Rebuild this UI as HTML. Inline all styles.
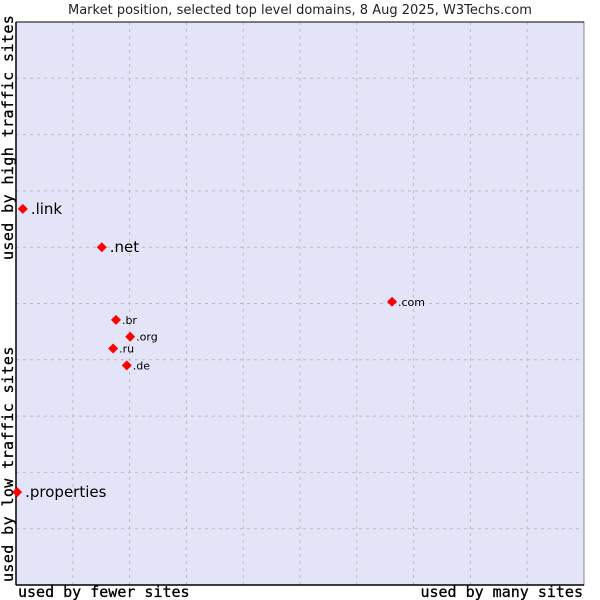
<!DOCTYPE html>
<html><head><meta charset="utf-8"><style>
body{margin:0;background:#fff;width:600px;height:600px;overflow:hidden}
svg{display:block}
</style></head><body>
<svg id="chart" width="600" height="600" xmlns="http://www.w3.org/2000/svg">
<text x="300" y="14" text-anchor="middle" font-family="DejaVu Sans, sans-serif" font-size="13" fill="#222">Market position, selected top level domains, 8 Aug 2025, W3Techs.com</text>
<rect x="16" y="22" width="568" height="563" fill="#e4e4f8" stroke="#888" stroke-width="1"/>
<g id="grid"></g>
<line x1="16" y1="22" x2="584" y2="22" stroke="#000"/>
<line x1="16" y1="22" x2="16" y2="585" stroke="#000" stroke-width="1.5"/>
<line x1="16" y1="585" x2="584" y2="585" stroke="#000" stroke-width="1.5"/>
<g id="points"></g>
<text x="18" y="597" font-family="DejaVu Sans Mono, monospace" font-size="15" stroke="#000" stroke-width="0.3" fill="#000">used by fewer sites</text>
<text x="583" y="597" text-anchor="end" font-family="DejaVu Sans Mono, monospace" font-size="15" stroke="#000" stroke-width="0.3" fill="#000">used by many sites</text>
<text transform="translate(13,582) rotate(-90)" font-family="DejaVu Sans Mono, monospace" font-size="15" letter-spacing="0.4" stroke="#000" stroke-width="0.3" fill="#000">used by low traffic sites</text>
<text transform="translate(13,260) rotate(-90)" font-family="DejaVu Sans Mono, monospace" font-size="15" letter-spacing="0.4" stroke="#000" stroke-width="0.3" fill="#000">used by high traffic sites</text>
</svg>
<script>
const domains=[".com",".br",".org",".ru",".de",".net",".link",".properties"];
const usage=[66.2,17.6,20.1,17.1,19.5,15.1,1.2,0.2];
const traffic=[50.3,47.1,44.1,42.0,39.0,60.0,66.8,16.5];
const bigLabel=[false,false,false,false,false,true,true,true];
const NS="http://www.w3.org/2000/svg";
const X0=16,X1=584,Y0=585,Y1=22;
function sx(v){return X0+v/100*(X1-X0);}
function sy(v){return Y0-v/100*(Y0-Y1);}
const grid=document.getElementById('grid');
for(let k=1;k<10;k++){
  const v=document.createElementNS(NS,'line');
  v.setAttribute('x1',sx(k*10));v.setAttribute('x2',sx(k*10));v.setAttribute('y1',Y1);v.setAttribute('y2',Y0);
  v.setAttribute('stroke','#bbb');v.setAttribute('stroke-dasharray','3,4');
  
  
  grid.appendChild(v);
  const h=document.createElementNS(NS,'line');
  h.setAttribute('y1',sy(k*10));h.setAttribute('y2',sy(k*10));h.setAttribute('x1',X0);h.setAttribute('x2',X1);
  h.setAttribute('stroke','#bbb');h.setAttribute('stroke-dasharray','3,4');
  
  
  grid.appendChild(h);
}
const pts=document.getElementById('points');
domains.forEach((d,i)=>{
  const x=sx(usage[i]),y=sy(traffic[i]);
  const c=document.createElementNS(NS,'polygon');
  c.setAttribute('points',`${x},${y-5} ${x+5},${y} ${x},${y+5} ${x-5},${y}`);
  c.setAttribute('fill','#f00');
  
  
  pts.appendChild(c);
  const t=document.createElementNS(NS,'text');
  t.setAttribute('x',x+(bigLabel[i]?8:6));t.setAttribute('y',y+(bigLabel[i]?5:4));
  t.setAttribute('font-family','DejaVu Sans, sans-serif');
  t.setAttribute('font-size',bigLabel[i]?15:11);t.setAttribute('fill','#000');
  t.textContent=d;
  
  
  pts.appendChild(t);
});
</script>
</body></html>
